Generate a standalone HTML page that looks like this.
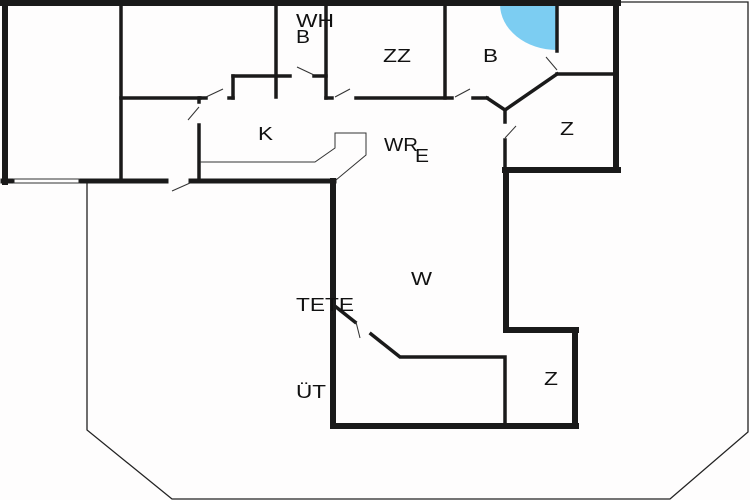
<!DOCTYPE html>
<html><head><meta charset="utf-8"><style>
html,body{margin:0;padding:0;background:#fff;}
svg{display:block;}
text{font-family:"Liberation Sans",sans-serif;font-size:18px;fill:#111;}
</style></head><body>
<svg width="750" height="500" viewBox="0 0 750 500" xmlns="http://www.w3.org/2000/svg">
<rect width="750" height="500" fill="#fefdfd"/>
<polyline points="87,182 87,430 172,499 670,499 748,432 748,2 620,2" fill="none" stroke="#222" stroke-width="1.3"/>
<path d="M500,4 A57,46 0 0 0 557,50 L557,4 Z" fill="#7ccdf2"/>
<g stroke="#1a1a1a" fill="none" stroke-linecap="square">
<line x1="3" y1="3" x2="618" y2="3" stroke-width="6"/>
<line x1="5" y1="3" x2="5" y2="182" stroke-width="6"/>
<line x1="616" y1="3" x2="616" y2="170" stroke-width="6"/>
<line x1="3" y1="181" x2="12" y2="181" stroke-width="5"/>
<line x1="81" y1="181" x2="166" y2="181" stroke-width="5"/>
<line x1="191" y1="181" x2="334" y2="181" stroke-width="5"/>
<line x1="505" y1="170" x2="618" y2="170" stroke-width="6"/>
<line x1="506" y1="170" x2="506" y2="330" stroke-width="6"/>
<line x1="506" y1="330" x2="576" y2="330" stroke-width="6"/>
<line x1="575" y1="330" x2="575" y2="426" stroke-width="6"/>
<line x1="333" y1="426" x2="576" y2="426" stroke-width="6"/>
<line x1="333" y1="181" x2="333" y2="426" stroke-width="6"/>
<line x1="121" y1="3" x2="121" y2="181" stroke-width="3.5"/>
<line x1="121" y1="98" x2="200" y2="98" stroke-width="3.5"/>
<line x1="199" y1="98" x2="199" y2="102" stroke-width="3.5"/>
<line x1="199" y1="125" x2="199" y2="181" stroke-width="3.5"/>
<line x1="200" y1="98" x2="206" y2="98" stroke-width="3.5"/>
<line x1="229" y1="98" x2="233" y2="98" stroke-width="3.5"/>
<line x1="233" y1="98" x2="233" y2="76" stroke-width="3.5"/>
<line x1="233" y1="76" x2="290" y2="76" stroke-width="3.5"/>
<line x1="276" y1="3" x2="276" y2="97" stroke-width="3.5"/>
<line x1="314" y1="76" x2="326" y2="76" stroke-width="3.5"/>
<line x1="326" y1="3" x2="326" y2="98" stroke-width="3.5"/>
<line x1="326" y1="98" x2="332" y2="98" stroke-width="3.5"/>
<line x1="356" y1="98" x2="452" y2="98" stroke-width="3.5"/>
<line x1="445" y1="3" x2="445" y2="98" stroke-width="3.5"/>
<line x1="473" y1="98" x2="487" y2="98" stroke-width="3.5"/>
<polyline points="487,98 505,110 557,74" stroke-width="3.5" stroke-linejoin="miter"/>
<line x1="557" y1="3" x2="557" y2="51" stroke-width="3.5"/>
<line x1="557" y1="74" x2="616" y2="74" stroke-width="3.5"/>
<line x1="505" y1="110" x2="505" y2="122" stroke-width="3.5"/>
<line x1="505" y1="140" x2="505" y2="170" stroke-width="3.5"/>
<line x1="336" y1="307" x2="355" y2="322" stroke-width="3.5"/>
<polyline points="371,334 400,357 505,357 505,426" stroke-width="3.5"/>
</g>
<g stroke="#333" stroke-width="1" fill="none">
<polyline points="200,162 315,162 335,148 335,133 366,133 366,155 336,180"/>
<line x1="13" y1="183" x2="80" y2="183"/>
<line x1="13" y1="179" x2="80" y2="179"/>
<line x1="206" y1="97" x2="223" y2="89"/>
<line x1="199" y1="107" x2="188" y2="120"/>
<line x1="297" y1="67" x2="314" y2="75"/>
<line x1="335" y1="97" x2="350" y2="89"/>
<line x1="455" y1="97" x2="470" y2="89"/>
<line x1="557" y1="70" x2="546" y2="57"/>
<line x1="505" y1="138" x2="516" y2="126"/>
<line x1="190" y1="183" x2="172" y2="191"/>
<line x1="356" y1="322" x2="360" y2="338"/>
</g>
<text x="296" y="27" textLength="38" lengthAdjust="spacingAndGlyphs">WH</text>
<text x="296" y="43" textLength="14" lengthAdjust="spacingAndGlyphs">B</text>
<text x="383" y="62" textLength="28" lengthAdjust="spacingAndGlyphs">ZZ</text>
<text x="483" y="62" textLength="15" lengthAdjust="spacingAndGlyphs">B</text>
<text x="258" y="140" textLength="15" lengthAdjust="spacingAndGlyphs">K</text>
<text x="560" y="135" textLength="14" lengthAdjust="spacingAndGlyphs">Z</text>
<text x="384" y="151" textLength="34" lengthAdjust="spacingAndGlyphs">WR</text>
<text x="415" y="162" textLength="14" lengthAdjust="spacingAndGlyphs">E</text>
<text x="411" y="285" textLength="21" lengthAdjust="spacingAndGlyphs">W</text>
<text x="296" y="311" textLength="58" lengthAdjust="spacingAndGlyphs">TETE</text>
<text x="296" y="398" textLength="30" lengthAdjust="spacingAndGlyphs">ÜT</text>
<text x="544" y="385" textLength="14" lengthAdjust="spacingAndGlyphs">Z</text>
</svg>
</body></html>
